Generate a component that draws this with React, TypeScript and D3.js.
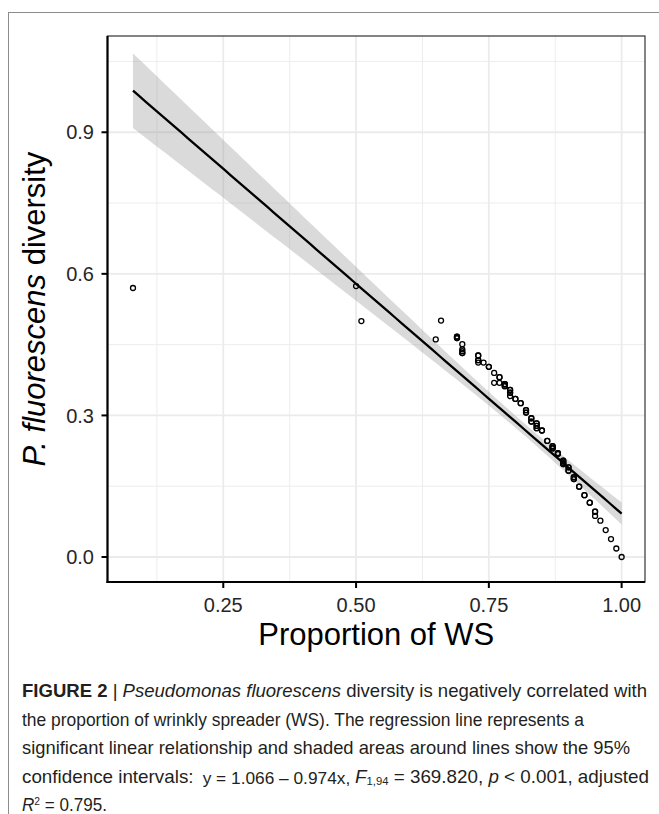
import React from "react";
import * as d3 from "d3";

// Proportion of WS (x) and P. fluorescens diversity (y)
const propWS = [
  0.08, 0.50, 0.51, 0.65, 0.66,
  0.69, 0.69, 0.69, 0.69,
  0.70, 0.70, 0.70, 0.70, 0.70,
  0.73, 0.73, 0.73, 0.73, 0.73, 0.74,
  0.75, 0.75, 0.76, 0.76, 0.77, 0.77, 0.77,
  0.78, 0.78, 0.78, 0.78, 0.78,
  0.79, 0.79, 0.79, 0.79, 0.79,
  0.80, 0.80, 0.81, 0.81,
  0.82, 0.82, 0.82, 0.82,
  0.83, 0.83, 0.83, 0.83,
  0.84, 0.84, 0.84, 0.84, 0.84, 0.84,
  0.85, 0.85, 0.86, 0.86,
  0.87, 0.87, 0.87, 0.87, 0.87,
  0.88, 0.88, 0.88,
  0.89, 0.89, 0.89, 0.89, 0.89, 0.89, 0.89,
  0.90, 0.90, 0.90, 0.90,
  0.91, 0.91, 0.91, 0.91,
  0.92, 0.92, 0.93, 0.93, 0.94, 0.94,
  0.95, 0.95, 0.95, 0.96, 0.97, 0.98, 0.99, 1.00,
];
const diversity = [
  0.570, 0.574, 0.500, 0.461, 0.501,
  0.467, 0.467, 0.464, 0.464,
  0.451, 0.440, 0.436, 0.432, 0.432,
  0.427, 0.427, 0.417, 0.417, 0.412, 0.412,
  0.403, 0.403, 0.390, 0.369, 0.381, 0.381, 0.369,
  0.366, 0.366, 0.366, 0.362, 0.362,
  0.354, 0.354, 0.348, 0.348, 0.341,
  0.335, 0.335, 0.326, 0.326,
  0.311, 0.311, 0.306, 0.306,
  0.294, 0.294, 0.287, 0.287,
  0.283, 0.283, 0.278, 0.278, 0.273, 0.273,
  0.268, 0.268, 0.246, 0.246,
  0.235, 0.235, 0.232, 0.230, 0.230,
  0.220, 0.220, 0.218,
  0.204, 0.204, 0.202, 0.199, 0.199, 0.197, 0.197,
  0.190, 0.190, 0.183, 0.183,
  0.169, 0.169, 0.165, 0.165,
  0.149, 0.149, 0.131, 0.131, 0.115, 0.115,
  0.096, 0.096, 0.087, 0.077, 0.057, 0.038, 0.018, 0.000,
];

// reported model: y = 1.066 – 0.974x
const fitIntercept = 1.066;
const fitSlope = -0.974;
const tCrit = 1.986; // t(0.975, df = 94)

const xTicks = [0.25, 0.5, 0.75, 1.0];
const xTickLabels = ["0.25", "0.50", "0.75", "1.00"];
const xMinor = [0.125, 0.375, 0.625, 0.875];
const yTicks = [0, 0.3, 0.6, 0.9];
const yTickLabels = ["0.0", "0.3", "0.6", "0.9"];
const yMinor = [0.15, 0.45, 0.75, 1.05];

const xDomain = [0.032, 1.044];
const yDomain = [-0.053, 1.104];

const FONT = "'Liberation Sans', Arial, Helvetica, sans-serif";

export default function App() {
  const panel = { left: 107.5, right: 645, top: 36, bottom: 582 };
  const x = d3.scaleLinear().domain(xDomain).range([panel.left, panel.right]);
  const y = d3.scaleLinear().domain(yDomain).range([panel.bottom, panel.top]);

  // 95% confidence band around the fitted line (like geom_smooth(method = "lm"))
  const n = propWS.length;
  const xbar = d3.mean(propWS) as number;
  let sxx = 0;
  let rss = 0;
  for (let i = 0; i < n; i++) {
    sxx += (propWS[i] - xbar) ** 2;
    rss += (diversity[i] - (fitIntercept + fitSlope * propWS[i])) ** 2;
  }
  const s = Math.sqrt(rss / (n - 2));
  const [x0, x1] = d3.extent(propWS) as [number, number];
  const grid = d3.range(0, 81).map((k) => x0 + ((x1 - x0) * k) / 80);
  const band = grid.map((gx) => {
    const fit = fitIntercept + fitSlope * gx;
    const se = s * Math.sqrt(1 / n + (gx - xbar) ** 2 / sxx);
    return { x: gx, fit, lo: fit - tCrit * se, hi: fit + tCrit * se };
  });

  const area = d3
    .area<{ x: number; lo: number; hi: number }>()
    .x((d) => x(d.x))
    .y0((d) => y(d.lo))
    .y1((d) => y(d.hi));
  const line = d3
    .line<{ x: number; fit: number }>()
    .x((d) => x(d.x))
    .y((d) => y(d.fit));

  const captionX = 22;
  const capSize = 18.5;
  const capFill = "#231F20";

  return (
    <svg
      width={659}
      height={814}
      style={{ position: "absolute", left: 0, top: 0, background: "#fff" }}
      fontFamily={FONT}
    >
      {/* outer figure frame */}
      <rect x={8.5} y={12.5} width={700} height={900} fill="none" stroke="#8c8c8c" strokeWidth={1} />

      {/* grid */}
      {xMinor.map((v) => (
        <line key={"xm" + v} x1={x(v)} x2={x(v)} y1={panel.top} y2={panel.bottom} stroke="#EBEBEB" strokeWidth={0.9} />
      ))}
      {yMinor.map((v) => (
        <line key={"ym" + v} x1={panel.left} x2={panel.right} y1={y(v)} y2={y(v)} stroke="#EBEBEB" strokeWidth={0.9} />
      ))}
      {xTicks.map((v) => (
        <line key={"xM" + v} x1={x(v)} x2={x(v)} y1={panel.top} y2={panel.bottom} stroke="#EBEBEB" strokeWidth={1.8} />
      ))}
      {yTicks.map((v) => (
        <line key={"yM" + v} x1={panel.left} x2={panel.right} y1={y(v)} y2={y(v)} stroke="#EBEBEB" strokeWidth={1.8} />
      ))}

      {/* CI ribbon and regression line */}
      <path d={area(band) || ""} fill="#999999" fillOpacity={0.36} stroke="none" />
      <path d={line(band) || ""} fill="none" stroke="#000" strokeWidth={2.3} />

      {/* points */}
      {propWS.map((v, i) => (
        <circle key={i} cx={x(v)} cy={y(diversity[i])} r={2.5} fill="none" stroke="#000" strokeWidth={1.3} />
      ))}

      {/* panel border */}
      <rect
        x={panel.left}
        y={panel.top}
        width={panel.right - panel.left}
        height={panel.bottom - panel.top}
        fill="none"
        stroke="#333"
        strokeWidth={1.2}
      />
      {/* axis lines */}
      <line x1={panel.left} x2={panel.left} y1={panel.top} y2={panel.bottom + 1} stroke="#000" strokeWidth={2.2} />
      <line x1={panel.left - 1} x2={panel.right} y1={panel.bottom} y2={panel.bottom} stroke="#000" strokeWidth={2.2} />

      {/* ticks + labels */}
      {xTicks.map((v, i) => (
        <g key={"xt" + v}>
          <line x1={x(v)} x2={x(v)} y1={panel.bottom} y2={panel.bottom + 6} stroke="#000" strokeWidth={2} />
          <text x={x(v)} y={612} textAnchor="middle" fontSize={20} fill="#262626">
            {xTickLabels[i]}
          </text>
        </g>
      ))}
      {yTicks.map((v, i) => (
        <g key={"yt" + v}>
          <line x1={panel.left - 6} x2={panel.left} y1={y(v)} y2={y(v)} stroke="#000" strokeWidth={2} />
          <text x={94} y={y(v) + 7.2} textAnchor="end" fontSize={20} fill="#262626">
            {yTickLabels[i]}
          </text>
        </g>
      ))}

      {/* axis titles */}
      <text x={(panel.left + panel.right) / 2} y={645} textAnchor="middle" fontSize={31} fill="#000">
        Proportion of WS
      </text>
      <text transform={`translate(45,${(panel.top + panel.bottom) / 2}) rotate(-90)`} textAnchor="middle" fontSize={31} fill="#000">
        <tspan fontStyle="italic">P. fluorescens</tspan>
        <tspan> diversity</tspan>
      </text>

      {/* caption */}
      <g fontSize={capSize} fill={capFill}>
        <text x={captionX} y={697} textLength={625} lengthAdjust="spacingAndGlyphs">
          <tspan fontWeight="bold">FIGURE 2</tspan>
          <tspan> | </tspan>
          <tspan fontStyle="italic">Pseudomonas fluorescens</tspan>
          <tspan> diversity is negatively correlated with</tspan>
        </text>
        <text x={captionX} y={725.5} textLength={562} lengthAdjust="spacingAndGlyphs">
          the proportion of wrinkly spreader (WS). The regression line represents a
        </text>
        <text x={captionX} y={754} textLength={608} lengthAdjust="spacingAndGlyphs">
          significant linear relationship and shaded areas around lines show the 95%
        </text>
        <text x={captionX} y={782.5} textLength={627} lengthAdjust="spacingAndGlyphs">
          <tspan>confidence intervals:</tspan>
          <tspan fontSize={capSize - 1.5} dx={9} dy={1.5}>y = 1.066 – 0.974x, </tspan>
          <tspan dy={-1.5} fontStyle="italic">F</tspan>
          <tspan fontSize={capSize * 0.6} dy={2}>1,94</tspan>
          <tspan dy={-2}> = 369.820, </tspan>
          <tspan fontStyle="italic">p</tspan>
          <tspan> &lt; 0.001, adjusted</tspan>
        </text>
        <text x={captionX} y={811} textLength={85} lengthAdjust="spacingAndGlyphs">
          <tspan fontStyle="italic">R</tspan>
          <tspan fontSize={capSize * 0.6} dy={-6}>2</tspan>
          <tspan dy={6}> = 0.795.</tspan>
        </text>
      </g>
    </svg>
  );
}
